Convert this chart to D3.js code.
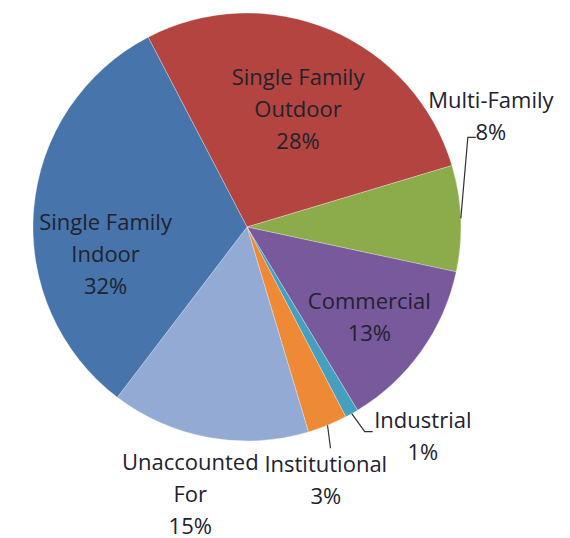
<!DOCTYPE html>
<html>
<head>
<meta charset="utf-8">
<script src="https://cdn.jsdelivr.net/npm/d3@7"></script>
<style>
    body { margin: 0; background: #fff; }
    svg text { font-family: "Open Sans", sans-serif; font-size: 22px; fill: #22222e; }
</style>
</head>
<body>
<div id="chart"></div>
<script>
// slices in clockwise order, starting from the top
var categories = ["Single Family Outdoor", "Multi-Family", "Commercial", "Industrial",
    "Institutional", "Unaccounted For", "Single Family Indoor"];
var percents = [28, 8, 13, 1, 3, 15, 32];
var labelLines = [
    ["Single Family", "Outdoor", "28%"],
    ["Multi-Family", "8%"],
    ["Commercial", "13%"],
    ["Industrial", "1%"],
    ["Institutional", "3%"],
    ["Unaccounted", "For", "15%"],
    ["Single Family", "Indoor", "32%"]
];

var colors = ["#b3443f", "#8cab4b", "#77599c", "#45a0c0", "#ee8a35", "#93aad5", "#4674ab"];

var width = 570;
var height = 538;
var cx = 247, cy = 227;
var radius = 214;
var lineH = 32;

var svg = d3.select("#chart")
    .append("svg")
    .attr("width", width)
    .attr("height", height);

var g = svg.append("g")
    .attr("transform", "translate(" + cx + "," + cy + ")");

var startAngle = -27.5 * Math.PI / 180;

var pie = d3.pie()
    .sort(null)
    .value(function (d) { return d; })
    .startAngle(startAngle)
    .endAngle(startAngle + 2 * Math.PI);

var arc = d3.arc()
    .innerRadius(0)
    .outerRadius(radius);

var arcs = pie(percents);

g.selectAll(".slice")
    .data(arcs)
    .enter().append("path")
    .attr("class", "slice")
    .attr("d", arc)
    .attr("fill", function (d, i) { return colors[i]; })
    .attr("stroke", "rgba(255,255,255,0.35)")
    .attr("stroke-width", 0.8);

// label placement: centre of text block, polar [angle in degrees, distance from centre]
var labelPolar = [
    [23.5, 128],
    [65.5, 268],
    [126.4, 152],
    [139.9, 273],
    [162.7, 265],
    [192, 273],
    [259.2, 144]
];

function polar(deg, r) {
    var a = deg * Math.PI / 180;
    return [r * Math.sin(a), -r * Math.cos(a)];
}

// leader lines for the small / outside labels: [slice index, bend offsets]
var leaders = [
    { i: 1, pts: [[7, -81], [15, -81]] },
    { i: 3, pts: [[13, 18], [21, 18]] },
    { i: 4, pts: [[3, 23]] }
];

leaders.forEach(function (l) {
    var d = arcs[l.i];
    var mid = (d.startAngle + d.endAngle) / 2;
    var p0 = [radius * Math.sin(mid), -radius * Math.cos(mid)];
    var pts = [p0].concat(l.pts.map(function (o) { return [p0[0] + o[0], p0[1] + o[1]]; }));
    g.append("path")
        .attr("d", d3.line()(pts))
        .attr("fill", "none")
        .attr("stroke", "#333")
        .attr("stroke-width", 1.2);
});

labelLines.forEach(function (lines, i) {
    var p = polar(labelPolar[i][0], labelPolar[i][1]);
    var top = p[1] - (lines.length - 1) * lineH / 2;
    var t = g.append("text")
        .attr("text-anchor", "middle");
    lines.forEach(function (s, k) {
        t.append("tspan")
            .attr("x", p[0])
            .attr("y", top + k * lineH)
            .attr("dy", "0.35em")
            .text(s);
    });
});
</script>
</body>
</html>
